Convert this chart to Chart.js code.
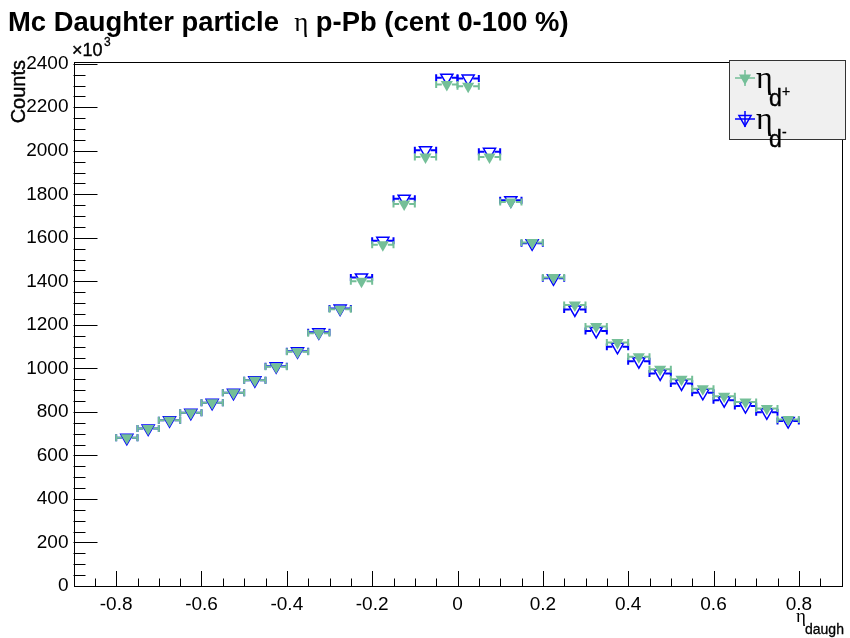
<!DOCTYPE html>
<html>
<head>
<meta charset="utf-8">
<script src="https://cdn.jsdelivr.net/npm/chart.js@4.4.1/dist/chart.umd.min.js"></script>
<style>
html, body { margin: 0; padding: 0; background: #fff; }
</style>
</head>
<body>
<canvas id="eta" width="850" height="638"></canvas>
<script>
// bin centres (eta) and counts in units of 10^3
const etaBins = [-0.775, -0.725, -0.675, -0.625, -0.575, -0.525, -0.475, -0.425,
  -0.375, -0.325, -0.275, -0.225, -0.175, -0.125, -0.075, -0.025,
  0.025, 0.075, 0.125, 0.175, 0.225, 0.275, 0.325, 0.375,
  0.425, 0.475, 0.525, 0.575, 0.625, 0.675, 0.725, 0.775];
const binHalfWidth = 0.025;
const countsPlus = [681, 724, 762, 796, 842, 888, 946, 1008, 1076, 1162, 1272, 1400, 1568, 1756, 1972, 2305,
  2296, 1972, 1765, 1578, 1418, 1291, 1192, 1119, 1053, 996, 950, 906, 872, 845, 816, 765];
const countsMinus = [681, 724, 762, 796, 842, 888, 946, 1010, 1079, 1166, 1275, 1418, 1586, 1780, 2002, 2336,
  2332, 1995, 1773, 1575, 1414, 1271, 1172, 1099, 1033, 977, 931, 888, 854, 827, 798, 758];
const xTicks = [-0.8, -0.6, -0.4, -0.2, 0, 0.2, 0.4, 0.6, 0.8];
const yTicks = [0, 200, 400, 600, 800, 1000, 1200, 1400, 1600, 1800, 2000, 2200, 2400];

const greenCol = '#74bf98';
const blueCol = '#0000ff';
const sans = '"Liberation Sans", Arial, sans-serif';
const serif = '"Liberation Serif", "Times New Roman", serif';

function toPoints(vals) {
  return etaBins.map((x, i) => ({ x: x, y: vals[i] }));
}

function triangleDown(ctx, x, y, r, fill, stroke, lw) {
  ctx.beginPath();
  ctx.moveTo(x, y + r);
  ctx.lineTo(x - r * Math.sqrt(3) / 2, y - r / 2);
  ctx.lineTo(x + r * Math.sqrt(3) / 2, y - r / 2);
  ctx.closePath();
  if (fill) { ctx.fillStyle = fill; ctx.fill(); }
  if (stroke) { ctx.strokeStyle = stroke; ctx.lineWidth = lw; ctx.stroke(); }
}

// text with a thin outline so it looks as heavy as the ROOT rendering
function heavyText(ctx, s, x, y, w) {
  ctx.fillText(s, x, y);
  ctx.lineWidth = w;
  ctx.strokeStyle = ctx.fillStyle;
  ctx.strokeText(s, x, y);
}

// horizontal bin-width error bars, drawn just before each dataset's markers
const errorBars = {
  id: 'errorBars',
  beforeDatasetDraw(chart, args) {
    const ctx = chart.ctx;
    const xs = chart.scales.x;
    const ds = chart.data.datasets[args.index];
    ctx.save();
    ctx.strokeStyle = ds.barColor;
    ctx.lineWidth = 2;
    args.meta.data.forEach((pt, i) => {
      const xv = ds.data[i].x;
      const l = xs.getPixelForValue(xv - binHalfWidth);
      const r = xs.getPixelForValue(xv + binHalfWidth);
      const y = pt.y;
      ctx.beginPath();
      ctx.moveTo(l, y); ctx.lineTo(pt.x - 5, y);
      ctx.moveTo(pt.x + 5, y); ctx.lineTo(r, y);
      ctx.moveTo(l, y - 3.5); ctx.lineTo(l, y + 3.5);
      ctx.moveTo(r, y - 3.5); ctx.lineTo(r, y + 3.5);
      ctx.stroke();
    });
    ctx.restore();
  }
};

const rootFrame = {
  id: 'rootFrame',
  beforeDatasetsDraw(chart) {
    const ctx = chart.ctx;
    const a = chart.chartArea;
    const xs = chart.scales.x, ys = chart.scales.y;
    ctx.save();
    ctx.strokeStyle = '#000';
    ctx.lineWidth = 1;
    ctx.strokeRect(Math.round(a.left) + 0.5, Math.round(a.top) + 0.5,
      Math.round(a.right - a.left), Math.round(a.bottom - a.top));
    ctx.beginPath();
    for (let i = -17; i <= 17; i++) {
      const px = Math.round(xs.getPixelForValue(i * 0.05)) + 0.5;
      const len = (i % 4 === 0) ? 15 : 7.5;
      ctx.moveTo(px, a.bottom); ctx.lineTo(px, a.bottom - len);
    }
    for (let v = 50; v <= 2400; v += 50) {
      const py = Math.round(ys.getPixelForValue(v)) + 0.5;
      const len = (v % 200 === 0) ? 24 : 12;
      ctx.moveTo(a.left, py); ctx.lineTo(a.left + len, py);
    }
    ctx.stroke();
    ctx.restore();
  },
  afterDraw(chart) {
    const ctx = chart.ctx;
    ctx.save();
    ctx.fillStyle = '#000';
    ctx.textBaseline = 'alphabetic';
    // title
    let x = 8;
    ctx.font = 'bold 27.4px ' + sans;
    const t1 = 'Mc Daughter particle  ';
    ctx.fillText(t1, x, 31); x += ctx.measureText(t1).width;
    ctx.font = '27px ' + serif;
    ctx.fillText('\u03b7', x, 31); x += ctx.measureText('\u03b7').width;
    ctx.font = 'bold 27.4px ' + sans;
    ctx.fillText(' p-Pb (cent 0-100 %)', x, 31);

    // x10^3
    ctx.font = '18px ' + sans;
    heavyText(ctx, '\u00d710', 72, 56, 0.4);
    ctx.font = '12px ' + sans;
    heavyText(ctx, '3', 104, 46, 0.3);

    // y title
    ctx.save();
    ctx.translate(25, 60);
    ctx.rotate(-Math.PI / 2);
    ctx.font = '20px ' + sans;
    ctx.textAlign = 'right';
    heavyText(ctx, 'Counts', 0, 0, 0.4);
    ctx.restore();

    // x title
    ctx.font = '19px ' + serif;
    ctx.fillText('\u03b7', 796, 622);
    ctx.font = '14px ' + sans;
    heavyText(ctx, 'daugh', 805, 634, 0.3);

    // legend
    const bx = 729.5, by = 60.5, bw = 116, bh = 79;
    ctx.fillStyle = '#f0f0f0';
    ctx.fillRect(bx, by, bw, bh);
    ctx.strokeStyle = '#333';
    ctx.lineWidth = 1;
    ctx.strokeRect(bx, by, bw, bh);
    const rows = [
      { y: 78, col: greenCol, fill: greenCol, sup: '+' },
      { y: 119, col: blueCol, fill: null, sup: '-' }
    ];
    rows.forEach(r => {
      ctx.strokeStyle = r.col;
      ctx.lineWidth = 1.5;
      ctx.beginPath();
      ctx.moveTo(735, r.y); ctx.lineTo(755, r.y);
      ctx.moveTo(745, r.y - 8); ctx.lineTo(745, r.y + 8);
      ctx.stroke();
      triangleDown(ctx, 745, r.y, 7, r.fill, r.fill ? null : r.col, 1.5);
      ctx.fillStyle = '#000';
      ctx.font = '32px ' + serif;
      ctx.fillText('\u03b7', 756, r.y + 10);
      ctx.font = '23px ' + sans;
      heavyText(ctx, 'd', 769, r.y + 28, 0.4);
      ctx.font = '14px ' + sans;
      heavyText(ctx, r.sup, 782, r.y + 18, 0.3);
    });
    ctx.restore();
  }
};

new Chart(document.getElementById('eta'), {
  type: 'scatter',
  data: {
    datasets: [{
      label: 'eta d+',
      data: toPoints(countsPlus),
      barColor: greenCol,
      pointStyle: 'triangle',
      rotation: 180,
      radius: 7,
      backgroundColor: greenCol,
      borderColor: 'rgba(0,0,0,0)',
      borderWidth: 0
    }, {
      label: 'eta d-',
      data: toPoints(countsMinus),
      barColor: blueCol,
      pointStyle: 'triangle',
      rotation: 180,
      radius: 7,
      backgroundColor: 'rgba(0,0,0,0)',
      borderColor: blueCol,
      borderWidth: 1.5
    }]
  },
  options: {
    responsive: false,
    animation: false,
    events: [],
    devicePixelRatio: 1,
    layout: { padding: { top: 62, right: 5, left: 0, bottom: 0 } },
    plugins: { legend: { display: false }, tooltip: { enabled: false } },
    scales: {
      x: {
        type: 'linear',
        min: -0.9,
        max: 0.9,
        grid: { display: false, drawTicks: false },
        border: { display: false },
        afterBuildTicks: s => { s.ticks = xTicks.map(v => ({ value: v })); },
        afterFit: s => { s.height = 52; },
        ticks: {
          padding: 7,
          color: '#000',
          font: { size: 19, family: sans },
          maxRotation: 0,
          autoSkip: false,
          callback: v => String(Math.round(v * 10) / 10)
        }
      },
      y: {
        type: 'linear',
        min: 0,
        max: 2408,
        grid: { display: false, drawTicks: false },
        border: { display: false },
        afterBuildTicks: s => { s.ticks = yTicks.map(v => ({ value: v })); },
        afterFit: s => { s.width = 73.5; },
        ticks: {
          padding: 5,
          color: '#000',
          font: { size: 19, family: sans },
          autoSkip: false,
          callback: v => String(v)
        }
      }
    }
  },
  plugins: [errorBars, rootFrame]
});
</script>
</body>
</html>
